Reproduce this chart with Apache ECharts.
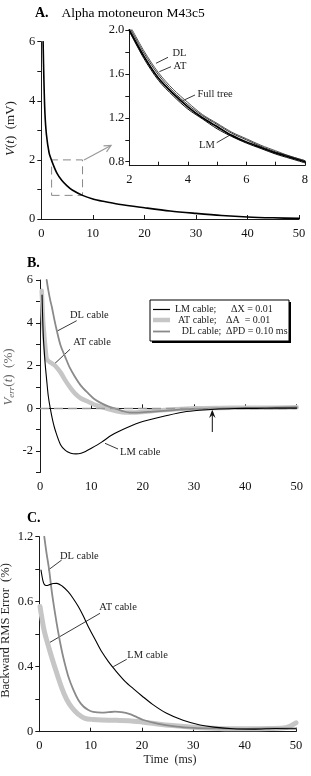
<!DOCTYPE html>
<html>
<head>
<meta charset="utf-8">
<script src="https://cdn.jsdelivr.net/npm/echarts@6/dist/echarts.min.js"></script>
<style>
  html, body { margin: 0; padding: 0; background: #fff; }
  #chart { width: 311px; height: 776px; }
</style>
</head>
<body>
<div id="chart"></div>
<script>
// ---- panel A: voltage decay, full tree + zoom inset
const aTime = [0.35, 0.5, 0.7, 1, 1.5, 2, 3, 4, 5, 6, 8, 10, 12, 15, 20, 25, 30, 35, 40, 45, 50];
const aFull = [6.0, 4.75, 3.6, 2.85, 2.25, 1.98, 1.56, 1.30, 1.12, 0.98, 0.80, 0.68, 0.60, 0.50, 0.38, 0.27, 0.19, 0.12, 0.07, 0.04, 0.02];
const aLabelTicks = [0, 2, 4, 6];

const insetRangeX = [2, 8];
const insetRangeY = [0.8, 2.0];
const insetTime = [2, 2.5, 3, 3.5, 4, 4.5, 5, 5.5, 6, 6.5, 7, 7.5, 8];
const insetFull = [2.00, 1.76, 1.56, 1.42, 1.30, 1.20, 1.12, 1.04, 0.98, 0.93, 0.88, 0.84, 0.80];
const insetDL   = [2.05, 1.81, 1.61, 1.46, 1.34, 1.23, 1.15, 1.07, 1.01, 0.95, 0.90, 0.85, 0.81];
const insetAT   = [2.03, 1.79, 1.59, 1.44, 1.32, 1.22, 1.14, 1.06, 1.00, 0.94, 0.89, 0.85, 0.81];
const insetLM   = [1.99, 1.74, 1.54, 1.40, 1.28, 1.19, 1.10, 1.03, 0.97, 0.92, 0.87, 0.83, 0.79];
const insetXLabels = [2, 4, 6, 8];
const insetYLabels = [0.8, 1.2, 1.6, 2.0];
const insetYTicks = [0.8, 1.0, 1.2, 1.4, 1.6, 1.8, 2.0];

// ---- panel B: V_err(t) in %
const bTimeLM = [0.4, 0.65, 1, 1.3, 1.6, 1.95, 2.5, 3, 4, 5, 6, 7, 8, 9, 10, 12, 14, 17, 20, 25, 28, 31, 34, 38, 42, 46, 50];
const bLM     = [5.3, 3.35, 2.1, 1.32, 0.6, 0.07, -0.6, -1.05, -1.7, -1.98, -2.1, -2.13, -2.1, -2.0, -1.87, -1.58, -1.25, -0.9, -0.62, -0.32, -0.17, -0.09, -0.04, -0.01, 0, 0.01, 0.01];
const bTimeDL = [1.3, 1.6, 2, 2.3, 2.8, 3.25, 4, 4.9, 5.8, 6.8, 8, 9.4, 10.5, 12, 13.3, 14.6, 16, 17.5, 19, 22, 26, 30, 35, 40, 45, 50];
const bDL     = [6.0, 5.55, 5.05, 4.75, 4.15, 3.66, 2.95, 2.41, 1.9, 1.48, 1.05, 0.70, 0.45, 0.23, 0.09, 0.0, -0.12, -0.2, -0.2, -0.15, -0.08, -0.03, 0, 0.02, 0.03, 0.05];
const bTimeAT = [0.33, 0.45, 0.6, 0.85, 1.1, 1.3, 1.6, 2, 2.5, 3, 4, 4.9, 5.8, 6.8, 8, 9.4, 10.5, 12, 13.5, 15, 16.5, 18, 20, 23, 26, 30, 35, 40, 45, 50];
const bAT     = [5.5, 4.9, 4.1, 3.35, 2.7, 2.3, 2.22, 2.15, 2.07, 1.98, 1.68, 1.32, 1.0, 0.70, 0.46, 0.31, 0.18, 0.07, -0.05, -0.14, -0.2, -0.2, -0.17, -0.1, -0.05, 0, 0.02, 0.03, 0.03, 0.05];
const bLabelTicks = [-2, 0, 2, 4, 6];

// ---- panel C: backward RMS error in %
const cTimeLM = [0.33, 0.7, 1.0, 1.4, 2, 2.7, 3.4, 4.5, 5.65, 6.6, 7.6, 8.6, 9.55, 11, 12.2, 13.5, 14.75, 16.7, 18.3, 20, 22, 24.8, 28, 31.3, 34, 37.8, 42, 46, 50];
const cLM     = [0.995, 0.93, 0.905, 0.90, 0.905, 0.912, 0.913, 0.895, 0.86, 0.82, 0.77, 0.71, 0.646, 0.56, 0.49, 0.43, 0.38, 0.31, 0.265, 0.22, 0.17, 0.113, 0.07, 0.041, 0.028, 0.018, 0.016, 0.02, 0.018];
const cTimeDL = [0.97, 1.4, 1.9, 2.4, 3.06, 3.7, 4.37, 5, 5.65, 6.6, 7.6, 8.6, 9.55, 10.5, 12.2, 13.5, 14.75, 16, 17.5, 19, 20.3, 23, 26.8, 30, 35, 40, 45, 50];
const cDL     = [1.2, 1.1, 1.0, 0.87, 0.73, 0.61, 0.50, 0.415, 0.34, 0.26, 0.195, 0.155, 0.134, 0.122, 0.117, 0.12, 0.123, 0.12, 0.11, 0.09, 0.072, 0.05, 0.031, 0.024, 0.02, 0.018, 0.02, 0.02];
const cTimeAT = [0.14, 0.5, 0.8, 1.2, 1.75, 2.4, 3.3, 4.37, 5.3, 6.3, 7.5, 8.9, 10.5, 12.2, 15, 17.5, 20, 23, 26, 30, 35, 40, 45, 48, 50];
const cAT     = [0.77, 0.70, 0.645, 0.59, 0.53, 0.46, 0.37, 0.27, 0.20, 0.15, 0.11, 0.082, 0.075, 0.072, 0.07, 0.068, 0.06, 0.048, 0.038, 0.028, 0.02, 0.018, 0.02, 0.025, 0.055];
const cTickValues = [0, 0.4, 0.8, 1.2];
const cTickLabels = ['0', '0.4', '0.6', '1.2'];   // as printed on the figure

const FONT = 'Liberation Serif';
const AXIS = '#1a1a1a';
const DARK = '#000';
const MID = '#8a8a8a';
const LIGHT = '#c6c6c6';

const pairs = (t, v) => t.map((x, i) => [x, v[i]]);

function curve(name, idx, t, v, color, width, z) {
  return {
    name, type: 'line', xAxisIndex: idx, yAxisIndex: idx,
    data: pairs(t, v), symbol: 'none', smooth: 0.3,
    lineStyle: { color, width, cap: 'round', join: 'round' }, z, silent: true, animation: false
  };
}

const labelStyle = { color: '#111', fontFamily: FONT, fontSize: 12.5 };

function xAx(grid, min, max, interval, extra) {
  return Object.assign({
    type: 'value', gridIndex: grid, min, max, interval,
    axisLine: { lineStyle: { color: AXIS, width: 1 } },
    axisTick: { inside: true, length: 4, lineStyle: { color: AXIS } },
    axisLabel: Object.assign({ margin: 8 }, labelStyle),
    splitLine: { show: false }
  }, extra || {});
}

function yAx(grid, min, max, interval, extra) {
  return Object.assign({
    type: 'value', gridIndex: grid, min, max, interval,
    axisLine: { show: true, lineStyle: { color: AXIS, width: 1 } },
    axisTick: { show: true, length: 4, lineStyle: { color: AXIS } },
    axisLabel: Object.assign({ margin: 6 }, labelStyle),
    splitLine: { show: false }
  }, extra || {});
}

const chart = echarts.init(document.getElementById('chart'), null, { renderer: 'canvas' });

const txt = (x, y, text, opts) => ({
  type: 'text', x, y, silent: true,
  style: Object.assign({ text, fontFamily: FONT, fontSize: 10.5, fill: '#222', textVerticalAlign: 'middle' }, opts || {})
});
const seg = (pts, color, width) => ({
  type: 'polyline', silent: true, shape: { points: pts },
  style: { stroke: color || '#222', lineWidth: width || 1, fill: null }
});

const option = {
  animation: false,
  backgroundColor: '#fff',
  grid: [
    { left: 41.3, top: 41.7, width: 257.7, height: 177.3 },
    { left: 129.3, top: 30, width: 181, height: 135.7 },
    { left: 40, top: 280, width: 256.7, height: 192.5 },
    { left: 39.3, top: 536.7, width: 256.7, height: 195 }
  ],
  xAxis: [
    xAx(0, 0, 50, 10),
    xAx(1, 2, 8, 1, { axisLabel: Object.assign({ margin: 8, customValues: insetXLabels }, labelStyle) }),
    xAx(2, 0, 50, 10),
    xAx(3, 0, 50, 10)
  ],
  yAxis: [
    yAx(0, 0, 6, 1, { axisLabel: Object.assign({ margin: 6, customValues: aLabelTicks }, labelStyle) }),
    yAx(1, 0.764, 2.0, 0.2, {
      axisTick: { show: true, length: 4, lineStyle: { color: AXIS }, customValues: insetYTicks },
      axisLabel: Object.assign({ customValues: insetYLabels, margin: 5, formatter: v => v.toFixed(1) }, labelStyle)
    }),
    yAx(2, -3, 6, 1, {
      axisLabel: Object.assign({ customValues: bLabelTicks, margin: 7 }, labelStyle)
    }),
    yAx(3, 0, 1.2, 0.2, {
      axisLabel: Object.assign({
        customValues: cTickValues, margin: 6,
        formatter: v => {
          const i = cTickValues.findIndex(c => Math.abs(c - v) < 1e-6);
          return i >= 0 ? cTickLabels[i] : '';
        }
      }, labelStyle)
    })
  ],
  series: [
    // A main
    curve('Full tree', 0, aTime, aFull, DARK, 1.6, 5),
    {
      type: 'line', xAxisIndex: 0, yAxisIndex: 0, symbol: 'none', silent: true, z: 4,
      data: [
        [insetRangeX[0], insetRangeY[0]], [insetRangeX[1], insetRangeY[0]],
        [insetRangeX[1], insetRangeY[1]], [insetRangeX[0], insetRangeY[1]],
        [insetRangeX[0], insetRangeY[0]]
      ],
      lineStyle: { color: '#888', width: 1, type: [8, 5] }
    },
    // A inset
    curve('DL', 1, insetTime, insetDL, '#555', 1, 5),
    curve('AT', 1, insetTime, insetAT, '#333', 1, 5),
    curve('LM', 1, insetTime, insetLM, '#111', 1, 5),
    curve('Full tree', 1, insetTime, insetFull, DARK, 1.8, 6),
    // B zero reference
    {
      type: 'line', xAxisIndex: 2, yAxisIndex: 2, data: [], silent: true, z: 2,
      markLine: {
        silent: true, symbol: 'none', label: { show: false }, animation: false,
        lineStyle: { color: '#9a9a9a', width: 1.3, type: [9, 5] },
        emphasis: { disabled: true },
        data: [{ yAxis: 0 }]
      }
    },
    // B
    curve('AT cable', 2, bTimeAT, bAT, LIGHT, 4.5, 3),
    curve('DL cable', 2, bTimeDL, bDL, MID, 1.8, 4),
    curve('LM cable', 2, bTimeLM, bLM, DARK, 1.1, 5),
    // C
    curve('AT cable', 3, cTimeAT, cAT, LIGHT, 5, 3),
    curve('DL cable', 3, cTimeDL, cDL, MID, 1.8, 4),
    curve('LM cable', 3, cTimeLM, cLM, DARK, 1.1, 5)
  ],
  graphic: [
    // titles
    txt(35, 13.5, 'A.', { fontSize: 14, fontWeight: 'bold', fill: '#000' }),
    txt(61.5, 13.5, 'Alpha motoneuron M43c5', { fontSize: 13.5, fill: '#000' }),
    txt(27, 263, 'B.', { fontSize: 14, fontWeight: 'bold', fill: '#000' }),
    txt(27, 518.5, 'C.', { fontSize: 14, fontWeight: 'bold', fill: '#000' }),

    // axis names
    {
      type: 'text', x: 11, y: 128.5, rotation: Math.PI / 2, silent: true,
      style: {
        text: '{i|V}({i|t})  (mV)', fontFamily: FONT, fontSize: 13, fill: '#222',
        textAlign: 'center', textVerticalAlign: 'middle',
        rich: { i: { fontStyle: 'italic', fontFamily: FONT, fontSize: 13 } }
      }
    },
    {
      type: 'text', x: 9, y: 377, rotation: Math.PI / 2, silent: true,
      style: {
        text: '{i|V}{s|err}({i|t})  (%)', fontFamily: FONT, fontSize: 13, fill: '#666',
        textAlign: 'center', textVerticalAlign: 'middle',
        rich: {
          i: { fontStyle: 'italic', fontFamily: FONT, fontSize: 13, fill: '#666' },
          s: { fontStyle: 'italic', fontFamily: FONT, fontSize: 9, fill: '#666', padding: [5, 0, 0, 0] }
        }
      }
    },
    {
      type: 'text', x: 6, y: 630.5, rotation: Math.PI / 2, silent: true,
      style: {
        text: 'Backward RMS Error  (%)', fontFamily: FONT, fontSize: 12.5, fill: '#222',
        textAlign: 'center', textVerticalAlign: 'middle'
      }
    },
    txt(170, 760, 'Time  (ms)', { fontSize: 12, textAlign: 'center', fill: '#222' }),

    // A: zoom arrow
    seg([[84, 160], [111, 145.5]], '#999', 1.2),
    seg([[103.5, 145.8], [111, 145.5], [106.5, 151.8]], '#999', 1.2),

    // A inset labels
    txt(172.5, 53, 'DL'), seg([[156, 63.3], [168, 57.3]], '#222', 0.9),
    txt(173.5, 66, 'AT'), seg([[159.3, 71.7], [171, 66.7]], '#222', 0.9),
    txt(197.5, 94, 'Full tree'), seg([[182.7, 100.7], [195, 95]], '#222', 0.9),
    txt(199, 145, 'LM'), seg([[216.7, 142.7], [230, 135]], '#222', 0.9),

    // B curve labels
    txt(70, 315, 'DL cable'), seg([[76.7, 320.7], [57.3, 331]], '#222', 0.9),
    txt(73.3, 342.7, 'AT cable'), seg([[70, 349.3], [54.3, 364]], '#222', 0.9),
    txt(120, 452.7, 'LM cable'), seg([[118, 449], [105, 443.3]], '#222', 0.9),

    // B up arrow
    seg([[212.3, 432], [212.3, 412]], '#111', 1),
    { type: 'polygon', silent: true, shape: { points: [[212.3, 409.5], [215.5, 418], [212.3, 415], [209.1, 418]] }, style: { fill: '#111' } },

    // B legend box
    { type: 'rect', silent: true, shape: { x: 152, y: 302, width: 139, height: 41 }, style: { fill: '#000' } },
    { type: 'rect', silent: true, shape: { x: 150, y: 300, width: 139, height: 41 }, style: { fill: '#fff', stroke: '#000', lineWidth: 1 } },
    seg([[153, 309.5], [170, 309.5]], DARK, 1.2),
    seg([[153, 320], [170, 320]], LIGHT, 4.5),
    seg([[153, 331.5], [170, 331.5]], MID, 1.8),
    txt(175, 309.5, 'LM cable;', { fontSize: 10 }), txt(231, 309.5, 'ΔX = 0.01', { fontSize: 10 }),
    txt(178, 320.5, 'AT cable;', { fontSize: 10 }), txt(226, 320.5, 'ΔA  = 0.01', { fontSize: 10 }),
    txt(181.7, 331.5, 'DL cable;', { fontSize: 10 }), txt(226, 331.5, 'ΔPD = 0.10 ms', { fontSize: 10 }),

    // C curve labels
    txt(60, 556, 'DL cable'), seg([[61.7, 560], [48.3, 570]], '#222', 0.9),
    txt(99.3, 607.3, 'AT cable'), seg([[100, 613.3], [48.3, 643.3]], '#222', 0.9),
    txt(127.3, 655.3, 'LM cable'), seg([[126.7, 659.3], [113.3, 666.7]], '#222', 0.9)
  ]
};

chart.setOption(option);
</script>
</body>
</html>
